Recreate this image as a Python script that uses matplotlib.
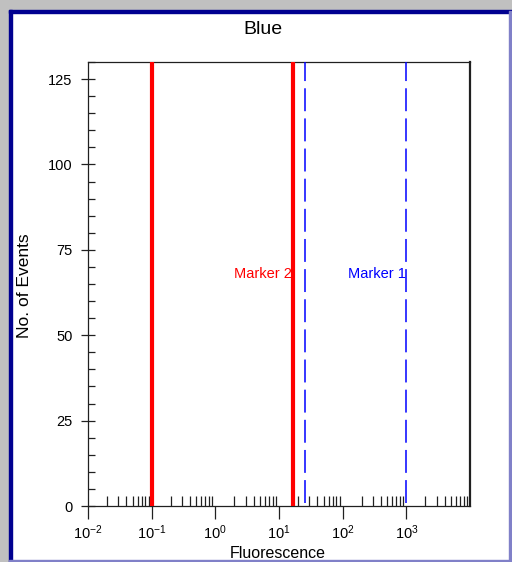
import matplotlib
matplotlib.use("Agg")
import matplotlib.pyplot as plt
from matplotlib.patches import Rectangle
from matplotlib.ticker import LogLocator, MultipleLocator, FixedLocator

plt.rcParams['font.family'] = ['Liberation Sans', 'DejaVu Sans']
plt.rcParams['mathtext.fontset'] = 'custom'
plt.rcParams['mathtext.rm'] = 'Liberation Sans'
plt.rcParams['mathtext.it'] = 'Liberation Sans'
plt.rcParams['mathtext.default'] = 'regular'
plt.rcParams['lines.scale_dashes'] = False

# chart data
title = "Blue"
x_label = "Fluorescence"
y_label = "No. of Events"
x_decades = [-2, -1, 0, 1, 2, 3]
y_ticks = [0, 25, 50, 75, 100, 125]
red_markers = [0.1, 16.6]
blue_markers = [25.5, 1000]
marker_labels = ["Marker 2", "Marker 1"]
marker_label_x = [16.6, 1000]
marker_label_y = 68

W, H = 512, 562
fig = plt.figure(figsize=(W / 100, H / 100), dpi=100)

# window frame
fig.patches.append(Rectangle((0, 0), 1, 1, transform=fig.transFigure, color='white', zorder=-3))
fig.patches.append(Rectangle((0, 1 - 10 / H), 1, 10 / H, transform=fig.transFigure, color='#c0c0c0', zorder=-2))
fig.patches.append(Rectangle((0, 0), 9 / W, 1, transform=fig.transFigure, color='#c0c0c0', zorder=-2))
fig.patches.append(Rectangle((9 / W, 1 - 13 / H), 1, 3 / H, transform=fig.transFigure, color='#000090', zorder=-1))
fig.patches.append(Rectangle((9 / W, 0), 3 / W, 1 - 10 / H, transform=fig.transFigure, color='#000090', zorder=-1))
fig.patches.append(Rectangle((509 / W, 0), 2 / W, 1 - 11 / H, transform=fig.transFigure, color='#8080c8', zorder=-1))
fig.patches.append(Rectangle((9 / W, 0), 1, 2 / H, transform=fig.transFigure, color='#8080c8', zorder=-1))

ax = fig.add_axes([88 / W, (H - 506) / H, (470 - 88) / W, (506 - 62) / H])
ax.set_xscale('log')
ax.set_xlim(1e-2, 1e4)
ax.set_ylim(0, 130)

for xv in red_markers:
    ax.axvline(xv, color='#ff0000', lw=3.0, zorder=3)
for xv in blue_markers:
    ax.axvline(xv, ymin=0.007, ymax=1, color='#0000ff', lw=1.1,
               linestyle=(0, (16.5, 5.2)), zorder=3)

ax.text(marker_label_x[0] / 1.03, marker_label_y, marker_labels[0], color='#ff0000',
        ha='right', va='center', fontsize=10.5)
ax.text(marker_label_x[1] / 1.03, marker_label_y, marker_labels[1], color='#0000ff',
        ha='right', va='center', fontsize=10.5)

# axes styling
for s in ['top', 'left', 'bottom']:
    ax.spines[s].set_linewidth(0.9)
    ax.spines[s].set_color('#202020')
ax.spines['right'].set_linewidth(1.6)
ax.spines['right'].set_color('#202020')

ax.xaxis.set_major_locator(FixedLocator([10.0 ** d for d in x_decades]))
ax.set_xticklabels(["$10^{%d}$" % d for d in x_decades])
ax.xaxis.set_minor_locator(LogLocator(base=10, subs=range(2, 10), numticks=20))
ax.tick_params(axis='x', which='major', direction='out', length=9.5, width=0.9,
               labelsize=10.5, pad=3, color='#202020')
ax.tick_params(axis='x', which='minor', direction='in', length=7, width=0.9,
               color='#202020')

ax.yaxis.set_major_locator(FixedLocator(y_ticks))
ax.yaxis.set_minor_locator(MultipleLocator(5))
ax.tick_params(axis='y', which='major', direction='inout', length=10, width=0.9,
               labelsize=10.5, pad=6, color='#202020')
ax.tick_params(axis='y', which='minor', direction='in', length=5, width=0.9,
               color='#202020')

fig.text(263 / W, 1 - 34 / H, title, ha='center', va='baseline', fontsize=14)
fig.text(25 / W, 1 - 286 / H, y_label, ha='center', va='center',
         rotation=90, fontsize=12.5)
fig.text(278 / W, 1 - 553 / H, x_label, ha='center', va='center', fontsize=11.5)

fig.savefig("out.png", dpi=100)
